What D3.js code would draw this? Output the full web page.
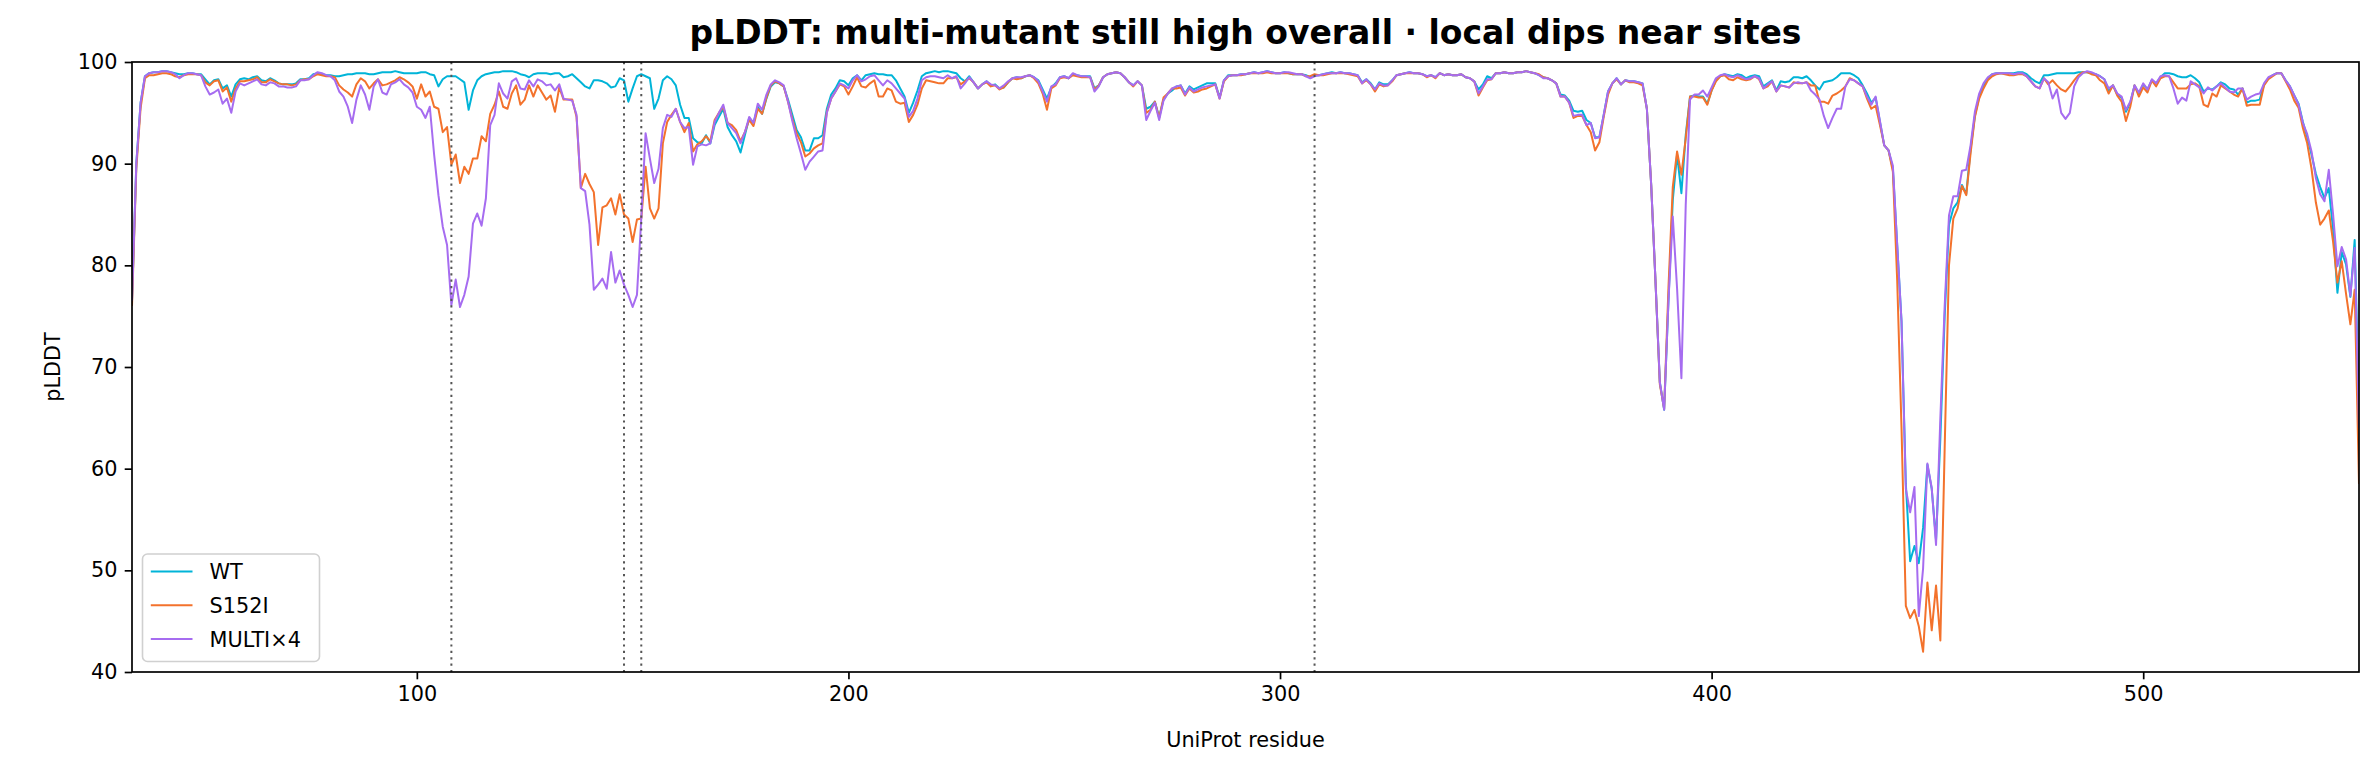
<!DOCTYPE html>
<html>
<head>
<meta charset="utf-8">
<script src="https://cdn.jsdelivr.net/npm/d3@7"></script>
<style>
  body { margin: 0; background: #fff; }
  svg text { font-family: 'DejaVu Sans', sans-serif; fill: #000; }
</style>
</head>
<body>
<div id="chart"></div>
<script>
// residue numbering starts at 34, one value per residue
const firstResidue = 34;

const wtValues = [
  76.5, 90.0, 96.0, 98.6, 98.9, 99.0, 99.0, 99.1, 99.1, 99.0,
  98.9, 98.8, 98.8, 98.9, 98.9, 98.8, 98.8, 98.3, 97.8, 98.2,
  98.3, 97.4, 97.7, 96.6, 97.8, 98.3, 98.4, 98.3, 98.5, 98.6,
  98.2, 98.1, 98.4, 98.2, 97.9, 97.8, 97.8, 97.8, 97.9, 98.3,
  98.3, 98.4, 98.8, 98.9, 98.8, 98.7, 98.7, 98.6, 98.6, 98.7,
  98.8, 98.8, 98.9, 98.9, 98.9, 98.8, 98.8, 98.9, 99.0, 99.0,
  99.0, 99.1, 99.0, 98.9, 98.9, 98.9, 98.9, 99.0, 99.0, 98.8,
  98.7, 97.6, 98.3, 98.6, 98.6, 98.6, 98.3, 98.0, 95.3, 97.2,
  98.2, 98.6, 98.8, 98.9, 99.0, 99.0, 99.1, 99.1, 99.1, 99.0,
  98.8, 98.7, 98.5, 98.8, 98.9, 98.9, 98.9, 98.8, 98.9, 98.9,
  98.5, 98.6, 98.8, 98.4, 98.0, 97.6, 97.4, 98.2, 98.2, 98.1,
  97.9, 97.5, 97.6, 98.4, 98.2, 96.1, 97.4, 98.6, 98.8, 98.6,
  98.4, 95.4, 96.4, 98.2, 98.6, 98.3, 97.7, 95.8, 94.5, 94.5,
  92.5, 92.1, 92.0, 92.8, 92.0, 93.8, 94.6, 95.4, 93.6, 92.8,
  92.2, 91.1, 92.8, 94.5, 94.0, 95.6, 94.9, 96.4, 97.6, 98.0,
  97.9, 97.6, 96.3, 94.8, 93.3, 92.6, 91.3, 91.3, 92.5, 92.5,
  92.8, 95.4, 96.8, 97.4, 98.2, 98.1, 97.7, 98.4, 98.7, 98.2,
  98.7, 98.8, 98.9, 98.8, 98.8, 98.7, 98.7, 98.2, 97.4, 96.6,
  95.0, 96.0, 97.2, 98.6, 98.9, 99.0, 99.1, 99.0, 99.1, 99.1,
  99.0, 98.9, 98.4, 98.1, 98.6, 98.0, 97.4, 97.8, 98.1, 97.7,
  97.8, 97.4, 97.5, 98.0, 98.4, 98.5, 98.4, 98.6, 98.7, 98.5,
  98.2, 97.3, 96.4, 97.5, 97.9, 98.5, 98.6, 98.4, 98.8, 98.7,
  98.6, 98.6, 98.6, 97.4, 97.7, 98.5, 98.8, 98.9, 99.0, 98.9,
  98.5, 98.0, 97.7, 98.1, 97.7, 95.4, 95.6, 96.1, 94.6, 96.3,
  96.9, 97.2, 97.6, 97.7, 96.9, 97.6, 97.3, 97.5, 97.7, 97.9,
  97.9, 97.9, 96.5, 98.2, 98.7, 98.7, 98.7, 98.8, 98.8, 98.9,
  99.0, 98.9, 99.0, 99.1, 99.0, 98.9, 98.9, 99.0, 98.9, 98.8,
  98.8, 98.8, 98.7, 98.5, 98.7, 98.7, 98.8, 98.9, 99.0, 98.9,
  99.0, 98.9, 98.9, 98.8, 98.7, 98.0, 98.3, 97.9, 97.3, 98.0,
  97.8, 97.8, 98.2, 98.7, 98.8, 98.9, 99.0, 98.9, 98.9, 98.8,
  98.6, 98.7, 98.5, 98.9, 98.7, 98.8, 98.7, 98.7, 98.8, 98.5,
  98.4, 98.1, 97.3, 97.8, 98.6, 98.4, 98.9, 98.9, 99.0, 98.9,
  98.9, 99.0, 99.0, 99.1, 99.0, 98.9, 98.7, 98.5, 98.4, 98.2,
  97.9, 96.8, 96.7, 96.2, 95.2, 95.1, 95.2, 94.3, 94.0, 92.6,
  92.6, 94.8, 97.1, 97.9, 98.4, 97.8, 98.2, 98.1, 98.1, 98.0,
  97.9, 95.4, 87.9, 78.4, 68.5, 65.8, 76.5, 86.4, 90.9, 87.1,
  92.8, 96.6, 96.7, 96.6, 96.6, 95.9, 97.2, 98.2, 98.6, 98.8,
  98.7, 98.6, 98.8, 98.7, 98.4, 98.6, 98.7, 98.6, 97.6, 97.9,
  98.2, 97.2, 98.1, 98.0, 98.1, 98.5, 98.5, 98.4, 98.6, 98.2,
  97.7, 97.3, 98.0, 98.1, 98.2, 98.5, 98.9, 98.9, 98.9, 98.7,
  98.4, 97.7, 96.9, 96.0, 96.5, 94.1, 91.8, 91.3, 89.5, 82.0,
  74.5, 58.5, 50.9, 52.4, 50.7, 54.2, 60.4, 58.0, 53.0, 63.0,
  75.0, 84.0, 85.6, 86.2, 87.9, 87.0, 91.4, 94.7, 96.6, 97.6,
  98.4, 98.8, 98.9, 98.9, 98.9, 98.9, 98.9, 99.0, 99.0, 98.8,
  98.4, 98.1, 97.9, 98.7, 98.7, 98.8, 98.9, 98.9, 98.9, 98.9,
  98.9, 99.0, 99.0, 99.0, 98.9, 98.8, 98.6, 98.3, 97.1, 97.7,
  96.8, 96.5, 95.1, 96.0, 97.7, 96.8, 97.8, 97.3, 98.2, 97.9,
  98.5, 98.9, 98.9, 98.8, 98.6, 98.5, 98.5, 98.7, 98.4, 98.0,
  97.1, 97.4, 97.3, 97.6, 98.0, 97.8, 97.4, 97.3, 96.8, 97.4,
  96.0, 96.2, 96.2, 96.3, 97.8, 98.4, 98.7, 98.9, 98.9, 98.2,
  97.6, 96.7, 95.9, 94.1, 92.6, 90.9, 89.0, 87.7, 86.6, 87.6,
  83.5, 77.3, 81.3, 80.1, 76.9, 82.5, 66.0
];

const s152iValues = [
  76.0, 89.5, 95.5, 98.4, 98.7, 98.7, 98.8, 98.9, 98.9, 98.8,
  98.6, 98.5, 98.7, 98.8, 98.8, 98.8, 98.7, 98.0, 97.7, 98.1,
  98.2, 97.1, 97.5, 96.1, 97.4, 98.1, 98.1, 98.2, 98.3, 98.5,
  98.0, 98.0, 98.3, 98.1, 97.9, 97.8, 97.8, 97.7, 97.8, 98.2,
  98.3, 98.3, 98.6, 98.8, 98.7, 98.6, 98.6, 98.5, 97.7, 97.3,
  97.0, 96.6, 97.8, 98.4, 98.1, 97.4, 97.9, 98.3, 97.7, 97.8,
  98.0, 98.2, 98.5, 98.3, 98.0, 97.6, 96.4, 97.8, 96.6, 97.1,
  95.6, 95.4, 93.1, 93.6, 89.9, 90.9, 88.1, 89.7, 89.0, 90.5,
  90.5, 92.7, 92.2, 94.9, 95.8, 97.1, 95.6, 95.4, 96.9, 97.7,
  95.8, 96.3, 97.7, 96.6, 97.7, 97.0, 96.3, 96.7, 95.1, 97.5,
  96.3, 96.3, 96.3, 94.6, 87.6, 89.0, 88.0, 87.2, 82.0, 85.7,
  85.9, 86.6, 85.0, 87.0, 85.0, 84.6, 82.3, 84.5, 84.6, 89.7,
  85.6, 84.6, 85.6, 92.0, 94.1, 94.8, 95.4, 94.1, 93.1, 94.0,
  91.2, 91.9, 92.2, 92.7, 92.2, 94.3, 95.0, 95.6, 94.0, 93.8,
  93.3, 92.2, 93.1, 94.3, 93.7, 95.4, 94.9, 96.5, 97.7, 98.1,
  97.9, 97.6, 96.1, 94.4, 93.0, 92.1, 90.7, 91.0, 91.5, 91.8,
  92.0, 95.1, 96.4, 97.1, 97.8, 97.6, 96.8, 97.6, 98.5, 97.6,
  97.5, 97.9, 98.2, 96.6, 96.6, 97.4, 97.2, 96.1, 95.9, 96.0,
  94.1, 94.8, 95.8, 97.4, 98.2, 98.1, 98.0, 97.9, 97.9, 98.4,
  98.4, 98.5, 97.8, 98.1, 98.4, 98.0, 97.4, 97.8, 98.0, 97.6,
  97.7, 97.3, 97.5, 98.0, 98.4, 98.3, 98.4, 98.6, 98.7, 98.4,
  97.9, 96.9, 95.3, 97.4, 97.7, 98.4, 98.5, 98.4, 98.7, 98.6,
  98.5, 98.5, 98.5, 97.3, 97.7, 98.5, 98.8, 98.9, 99.0, 98.9,
  98.5, 98.0, 97.6, 98.1, 97.7, 95.0, 95.3, 96.1, 94.5, 96.5,
  96.9, 97.4, 97.4, 97.5, 96.7, 97.4, 97.0, 97.1, 97.3, 97.4,
  97.6, 97.8, 96.4, 98.1, 98.6, 98.7, 98.7, 98.7, 98.8, 98.9,
  98.9, 98.9, 98.9, 99.0, 98.9, 98.9, 98.9, 98.9, 98.9, 98.8,
  98.8, 98.8, 98.6, 98.6, 98.8, 98.7, 98.7, 98.8, 98.9, 98.9,
  98.9, 98.9, 98.8, 98.7, 98.6, 97.9, 98.2, 97.8, 97.1, 97.8,
  97.6, 97.7, 98.1, 98.7, 98.8, 98.9, 98.9, 98.9, 98.9, 98.8,
  98.5, 98.7, 98.4, 98.9, 98.7, 98.8, 98.7, 98.7, 98.8, 98.5,
  98.4, 98.1, 96.7, 97.5, 98.2, 98.3, 98.9, 98.9, 99.0, 98.9,
  98.9, 99.0, 99.0, 99.1, 99.0, 98.9, 98.8, 98.5, 98.4, 98.2,
  97.9, 96.6, 96.6, 96.0, 94.5, 94.7, 94.7, 93.8, 93.1, 91.3,
  92.1, 94.6, 96.8, 97.9, 98.3, 97.8, 98.2, 98.0, 98.0, 97.9,
  97.7, 95.4, 87.9, 78.4, 68.3, 65.9, 77.8, 87.7, 91.2, 88.9,
  92.5, 96.6, 96.6, 96.5, 96.5, 95.8, 97.2, 98.1, 98.6, 98.7,
  98.3, 98.2, 98.5, 98.3, 98.2, 98.3, 98.6, 98.3, 97.4, 97.6,
  98.1, 97.1, 97.7, 97.6, 97.5, 98.0, 97.9, 97.9, 98.0, 97.7,
  97.7, 96.1, 96.1, 95.9, 96.7, 96.9, 97.2, 97.6, 98.4, 98.2,
  97.9, 97.6, 96.4, 95.4, 95.7, 93.8, 91.8, 91.3, 89.2, 78.5,
  64.0, 46.5, 45.3, 46.1, 44.5, 42.0, 48.8, 44.1, 48.5, 43.1,
  62.0, 80.0, 84.6, 85.6, 87.8, 86.9, 91.0, 94.6, 96.4, 97.4,
  98.2, 98.6, 98.8, 98.9, 98.8, 98.7, 98.7, 98.8, 98.8, 98.6,
  98.1, 97.6, 97.4, 98.4, 97.8, 98.2, 97.7, 97.3, 97.1, 97.6,
  98.2, 98.7, 99.0, 99.0, 98.8, 98.7, 98.2, 97.9, 96.9, 97.7,
  96.7, 96.1, 94.2, 95.6, 97.7, 96.6, 97.5, 97.0, 98.2, 97.6,
  98.4, 98.6, 98.6, 98.0, 97.4, 97.4, 97.4, 97.8, 97.9, 97.6,
  95.8, 95.6, 96.9, 96.6, 97.7, 97.4, 97.1, 96.8, 96.6, 97.4,
  95.7, 95.8, 95.8, 95.8, 97.7, 98.3, 98.6, 98.9, 98.9, 98.1,
  97.3, 96.2, 95.5, 93.5, 92.0, 89.5, 86.2, 84.0, 84.6, 85.4,
  82.3, 78.3, 80.4, 77.2, 74.2, 77.6, 58.5
];

const multiValues = [
  76.5, 90.0, 96.0, 98.6, 98.9, 99.0, 99.0, 99.1, 99.1, 99.0,
  98.8, 98.4, 98.7, 98.9, 98.9, 98.8, 98.7, 97.6, 96.8, 97.0,
  97.3, 95.9, 96.4, 95.0, 97.1, 97.9, 97.7, 97.9, 98.1, 98.3,
  97.8, 97.7, 98.0, 97.9, 97.6, 97.6, 97.5, 97.5, 97.6, 98.2,
  98.2, 98.3, 98.7, 99.0, 98.9, 98.7, 98.6, 98.2, 97.1, 96.6,
  95.6, 94.0, 96.3, 97.7, 96.8, 95.3, 97.6, 98.3, 97.0, 96.8,
  97.8, 98.0, 98.3, 97.8, 97.5, 97.0, 95.6, 95.3, 94.5, 95.6,
  90.9, 86.9, 83.8, 82.0, 76.1, 78.6, 75.9, 77.1, 78.9, 84.1,
  85.1, 83.9, 86.6, 93.8, 94.8, 97.9, 96.9, 96.4, 98.1, 98.4,
  97.4, 97.3, 98.2, 97.6, 98.3, 98.1, 97.7, 97.8, 97.2, 97.8,
  96.4, 96.3, 96.2, 94.8, 87.6, 87.3, 84.0, 77.6, 78.1, 78.7,
  77.7, 81.3, 78.3, 79.5, 78.1, 77.1, 75.9, 77.1, 84.6, 93.0,
  90.5, 88.1, 89.5, 93.5, 94.8, 94.6, 95.4, 94.1, 93.5, 93.6,
  89.9, 91.7, 91.9, 91.8, 92.0, 94.1, 95.0, 95.8, 94.0, 93.5,
  93.0, 92.0, 93.1, 94.6, 94.0, 95.9, 95.3, 96.8, 97.8, 98.2,
  98.0, 97.7, 96.1, 94.2, 92.5, 91.0, 89.4, 90.2, 90.7, 91.2,
  91.3, 95.0, 96.4, 97.1, 97.9, 97.7, 97.4, 98.2, 98.7, 98.1,
  98.3, 98.6, 98.7, 98.2, 97.7, 98.2, 97.9, 97.4, 96.9, 96.4,
  94.6, 95.2, 96.4, 98.2, 98.5, 98.6, 98.6, 98.5, 98.4, 98.7,
  98.4, 98.6, 97.4, 97.9, 98.5, 98.0, 97.4, 97.8, 98.1, 97.8,
  97.7, 97.4, 97.7, 98.1, 98.4, 98.5, 98.5, 98.6, 98.7, 98.5,
  98.1, 97.1, 96.1, 97.6, 97.8, 98.5, 98.6, 98.4, 98.9, 98.7,
  98.6, 98.6, 98.5, 97.1, 97.6, 98.5, 98.8, 98.9, 99.0, 98.9,
  98.5, 98.0, 97.7, 98.1, 97.7, 94.3, 95.2, 96.0, 94.3, 96.2,
  96.9, 97.4, 97.6, 97.7, 96.8, 97.5, 97.1, 97.3, 97.5, 97.6,
  97.7, 97.8, 96.4, 98.2, 98.6, 98.7, 98.7, 98.8, 98.8, 98.9,
  99.0, 98.9, 99.0, 99.1, 99.0, 98.9, 98.9, 99.0, 99.0, 98.9,
  98.8, 98.8, 98.6, 98.4, 98.6, 98.7, 98.8, 98.9, 98.9, 98.9,
  99.0, 98.9, 98.9, 98.8, 98.7, 97.9, 98.3, 97.8, 97.3, 97.9,
  97.7, 97.7, 98.2, 98.7, 98.8, 98.9, 99.0, 98.9, 98.9, 98.8,
  98.6, 98.7, 98.5, 98.9, 98.7, 98.8, 98.7, 98.7, 98.8, 98.5,
  98.4, 98.1, 96.9, 97.6, 98.3, 98.3, 98.9, 98.9, 99.0, 98.9,
  98.9, 99.0, 99.0, 99.1, 99.0, 98.9, 98.7, 98.4, 98.4, 98.2,
  97.9, 96.6, 96.6, 96.0, 94.7, 94.8, 94.8, 93.8, 94.0, 92.5,
  92.6, 94.8, 97.1, 97.9, 98.4, 97.8, 98.2, 98.1, 98.1, 98.0,
  97.9, 95.4, 87.9, 78.4, 68.5, 65.8, 76.5, 84.8, 77.7, 68.9,
  85.9, 96.3, 96.8, 96.8, 97.2, 96.6, 97.5, 98.4, 98.7, 98.8,
  98.6, 98.5, 98.7, 98.5, 98.3, 98.4, 98.6, 98.4, 97.4, 97.8,
  98.1, 97.1, 97.7, 97.6, 97.5, 97.9, 98.0, 97.9, 98.0, 97.2,
  96.8, 96.3, 94.7, 93.5, 94.5, 95.4, 95.4, 97.6, 98.3, 98.2,
  97.9, 97.6, 96.6, 95.8, 96.6, 94.2, 91.8, 91.3, 89.8, 82.0,
  74.5, 58.0, 55.7, 58.2, 45.5, 50.2, 60.5, 58.1, 52.5, 65.0,
  76.0, 84.9, 86.8, 86.8, 89.3, 89.4, 91.8, 95.1, 96.9, 97.9,
  98.5, 98.8, 98.9, 98.9, 98.9, 98.9, 98.8, 98.9, 98.9, 98.6,
  98.1, 97.6, 97.4, 98.4, 98.0, 96.4, 97.3, 95.0, 94.4, 95.0,
  97.6, 98.5, 98.9, 99.1, 99.0, 98.8, 98.6, 98.3, 97.4, 97.7,
  96.9, 96.6, 95.3, 96.1, 97.7, 97.0, 97.9, 97.3, 98.3, 97.9,
  98.6, 98.7, 98.6, 97.4, 95.9, 96.5, 96.2, 98.1, 97.8, 97.5,
  96.9, 97.5, 97.2, 97.6, 97.9, 97.5, 97.1, 97.0, 97.4, 97.4,
  96.3, 96.6, 96.8, 96.9, 97.9, 98.5, 98.7, 98.9, 98.9, 98.2,
  97.6, 96.7, 95.8, 94.0, 92.9, 91.2, 88.6, 87.0, 86.3, 89.4,
  85.0, 79.9, 81.8, 80.6, 77.0, 81.7, 64.0
];

const seriesNames = ['WT', 'S152I', 'MULTI×4'];
const seriesColors = ['#00b4d8', '#f3722c', '#a66cf0'];
const siteResidues = [108, 148, 152, 308];
const xTicks = [100, 200, 300, 400, 500];
const yTicks = [40, 50, 60, 70, 80, 90, 100];
const xDomain = [34, 550];
const yDomain = [40, 100];
const titleText = 'pLDDT: multi-mutant still high overall · local dips near sites';
const xLabel = 'UniProt residue';
const yLabel = 'pLDDT';


class PlddtChart {

    constructor(opts) {
        this.series = opts.series;
        this.element = opts.element;
        this.draw();
    }

    draw() {
        this.width = 2379;
        this.height = 778;
        this.margin = {
            top: 62,
            right: 20,
            bottom: 106,
            left: 132
        };
        this.innerW = this.width - this.margin.left - this.margin.right;
        this.innerH = this.height - this.margin.top - this.margin.bottom;

        this.element.innerHTML = '';
        this.svg = d3.select(this.element)
            .append('svg')
            .attr('width', this.width)
            .attr('height', this.height)
            .style('display', 'block')
            .style('background', '#fff');

        this.plot = this.svg.append('g')
            .attr('transform', `translate(${this.margin.left},${this.margin.top})`);

        this.createScales();
        this.addLines();
        this.addSites();
        this.addAxes();
        this.addLegend();
        this.addText();
    }

    createScales() {
        this.xScale = d3.scaleLinear()
            .domain(xDomain)
            .range([0, this.innerW]);

        this.yScale = d3.scaleLinear()
            .domain(yDomain)
            .range([this.innerH, 0]);
    }

    addLines() {
        this.plot.append('clipPath')
            .attr('id', 'plot-clip')
            .append('rect')
            .attr('width', this.innerW)
            .attr('height', this.innerH);

        const line = d3.line()
            .x(d => this.xScale(d[0]))
            .y(d => this.yScale(d[1]));

        this.plot.append('g')
            .attr('clip-path', 'url(#plot-clip)')
            .selectAll('path')
            .data(this.series)
            .join('path')
            .attr('d', s => line(s.points))
            .attr('fill', 'none')
            .attr('stroke', s => s.color)
            .attr('stroke-width', 2)
            .attr('stroke-linejoin', 'round');
    }

    addSites() {
        // dotted markers at the mutated residues
        this.plot.append('g')
            .selectAll('line')
            .data(siteResidues)
            .join('line')
            .attr('x1', d => this.xScale(d))
            .attr('x2', d => this.xScale(d))
            .attr('y1', 0)
            .attr('y2', this.innerH)
            .attr('stroke', '#555')
            .attr('stroke-width', 2)
            .attr('stroke-dasharray', '2.2,4.2');
    }

    addAxes() {
        const xAxis = d3.axisBottom(this.xScale)
            .tickValues(xTicks)
            .tickFormat(d3.format('d'))
            .tickSizeInner(7.3)
            .tickSizeOuter(0)
            .tickPadding(7.3);

        const yAxis = d3.axisLeft(this.yScale)
            .tickValues(yTicks)
            .tickFormat(d3.format('d'))
            .tickSizeInner(7.3)
            .tickSizeOuter(0)
            .tickPadding(7.3);

        const gx = this.plot.append('g')
            .attr('transform', `translate(0,${this.innerH})`)
            .call(xAxis);

        const gy = this.plot.append('g')
            .call(yAxis);

        [gx, gy].forEach(g => {
            g.select('.domain').remove();
            g.selectAll('.tick line').attr('stroke', '#000').attr('stroke-width', 1.7);
            g.selectAll('.tick text')
                .attr('fill', '#000')
                .style('font-size', '20.8px')
                .style('font-family', "'DejaVu Sans', sans-serif");
        });

        // frame round the plot
        this.plot.append('rect')
            .attr('width', this.innerW)
            .attr('height', this.innerH)
            .attr('fill', 'none')
            .attr('stroke', '#000')
            .attr('stroke-width', 1.7);
    }

    addLegend() {
        const lg = this.plot.append('g')
            .attr('transform', `translate(${142.5 - this.margin.left},${554 - this.margin.top})`);

        lg.append('rect')
            .attr('width', 177)
            .attr('height', 107.5)
            .attr('rx', 5)
            .attr('fill', '#fff')
            .attr('fill-opacity', 0.8)
            .attr('stroke', '#d0d0d0')
            .attr('stroke-width', 1.6);

        const rows = lg.selectAll('g.row')
            .data(this.series)
            .join('g')
            .attr('class', 'row')
            .attr('transform', (d, i) => `translate(0,${17.5 + i * 33.8})`);

        rows.append('line')
            .attr('x1', 8.3)
            .attr('x2', 50)
            .attr('stroke', d => d.color)
            .attr('stroke-width', 2);

        rows.append('text')
            .attr('x', 67)
            .attr('dy', '0.36em')
            .style('font-size', '20.8px')
            .text(d => d.name);
    }

    addText() {
        const cx = this.margin.left + this.innerW / 2;

        this.svg.append('text')
            .attr('x', cx)
            .attr('y', 44)
            .attr('text-anchor', 'middle')
            .style('font-size', '33px')
            .style('font-weight', 'bold')
            .text(titleText);

        this.svg.append('text')
            .attr('x', cx)
            .attr('y', 747)
            .attr('text-anchor', 'middle')
            .style('font-size', '20.8px')
            .text(xLabel);

        this.svg.append('text')
            .attr('transform', `translate(60,${this.margin.top + this.innerH / 2}) rotate(-90)`)
            .attr('text-anchor', 'middle')
            .style('font-size', '20.8px')
            .text(yLabel);
    }
}

const residues = d3.range(firstResidue, firstResidue + wtValues.length);
const seriesValues = [wtValues, s152iValues, multiValues];

const chart = new PlddtChart({
    element: document.getElementById('chart'),
    series: seriesNames.map((name, i) => ({
        name: name,
        color: seriesColors[i],
        points: residues.map((r, j) => [r, seriesValues[i][j]])
    }))
});
</script>
</body>
</html>
